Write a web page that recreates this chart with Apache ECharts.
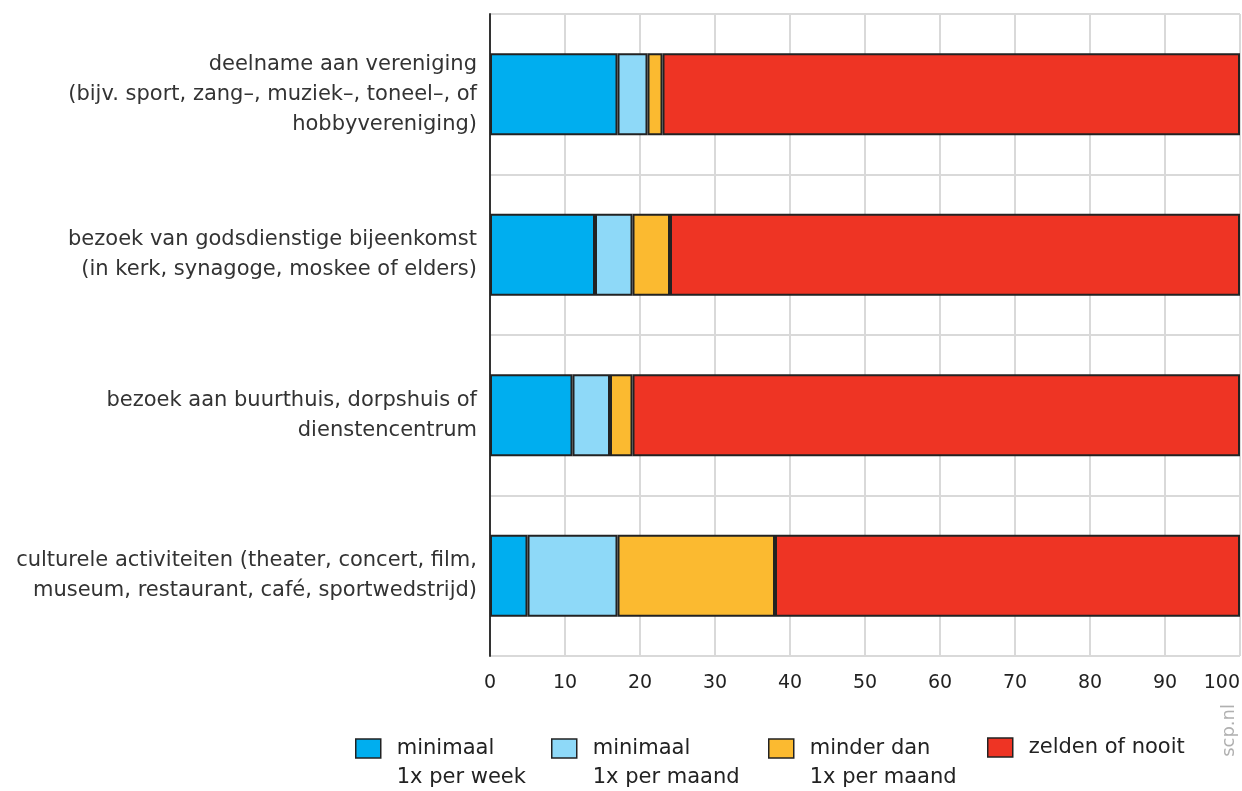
<!DOCTYPE html>
<html>
<head>
<meta charset="utf-8">
<script src="https://cdn.jsdelivr.net/npm/echarts@6/dist/echarts.min.js"></script>
<style>
html,body{margin:0;padding:0;background:#fff;}
#chart{width:1242px;height:791px;}
</style>
</head>
<body>
<div id="chart"></div>
<script>
const categories = [
  "deelname aan vereniging\n(bijv. sport, zang–, muziek–, toneel–, of\nhobbyvereniging)",
  "bezoek van godsdienstige bijeenkomst\n(in kerk, synagoge, moskee of elders)",
  "bezoek aan buurthuis, dorpshuis of\ndienstencentrum",
  "culturele activiteiten (theater, concert, film,\nmuseum, restaurant, café, sportwedstrijd)"
];
const seriesNames = ["minimaal\n1x per week", "minimaal\n1x per maand", "minder dan\n1x per maand", "zelden of nooit"];
const weekly = [17, 14, 11, 5];
const monthly = [4, 5, 5, 12];
const lessThanMonthly = [2, 5, 3, 21];
const rarely = [77, 76, 81, 62];
const xTicks = [0, 10, 20, 30, 40, 50, 60, 70, 80, 90, 100];

const colors = ["#00aeef", "#8ed9f8", "#fbba30", "#ee3424"];
const values = [weekly, monthly, lessThanMonthly, rarely];
const FONT = "'DejaVu Sans', 'Open Sans', sans-serif";

const legendX = [355, 551, 768, 987];

const chart = echarts.init(document.getElementById('chart'));
chart.setOption({
  animation: false,
  backgroundColor: '#fff',
  textStyle: {fontFamily: FONT},
  grid: {left: 490, right: 2, top: 14, bottom: 135, containLabel: false, outerBoundsMode: 'none'},
  xAxis: {
    type: 'value', min: 0, max: 100, interval: 10,
    axisLine: {show: false}, axisTick: {show: false},
    axisLabel: {color: '#222', fontSize: 19, margin: 18, fontFamily: FONT, alignMaxLabel: 'right',
      formatter: v => xTicks.includes(v) ? String(v) : ''},
    splitLine: {show: true, lineStyle: {color: '#d9d9d9', width: 2}}
  },
  yAxis: {
    type: 'category', data: categories, inverse: true,
    axisLine: {show: true, lineStyle: {color: '#333', width: 2}},
    axisTick: {show: false},
    axisLabel: {color: '#333', fontSize: 21, lineHeight: 30, align: 'right', margin: 13, fontFamily: FONT},
    splitLine: {show: true, lineStyle: {color: '#d9d9d9', width: 2}}
  },
  legend: seriesNames.map((n, i) => ({
    data: [n], left: legendX[i], top: n.includes('\n') ? 705 : 733, orient: 'horizontal', padding: 0,
    itemWidth: 25, itemHeight: 19, itemGap: 0,
    icon: 'rect',
    formatter: name => name.includes('\n') ? '\n' + name : name,
    itemStyle: {borderColor: '#222', borderWidth: 1.5},
    textStyle: {color: '#222', fontSize: 21, lineHeight: 29, fontFamily: FONT, padding: [0, 0, 0, 11]},
    selectedMode: false
  })),
  graphic: [{
    type: 'text', left: 1220, top: 704, rotation: Math.PI / 2,
    style: {text: 'scp.nl', fill: '#b0b0b0', font: "18px 'DejaVu Sans', sans-serif"}
  }],
  series: seriesNames.map((n, i) => ({
    name: n, type: 'bar', stack: 'total', data: values[i],
    barWidth: '51%',
    itemStyle: {color: colors[i], borderColor: '#222', borderWidth: 2}
  }))
});
</script>
</body>
</html>
